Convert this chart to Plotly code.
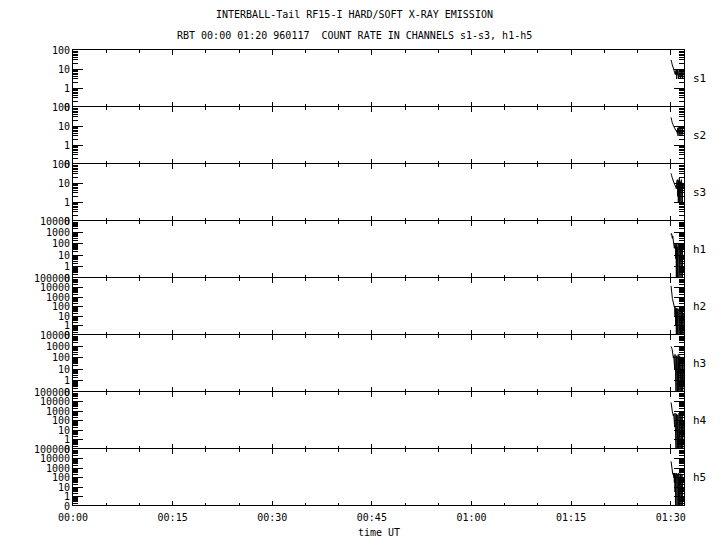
import plotly.graph_objects as go
from plotly.subplots import make_subplots

# ---------------- data ----------------
time_min = [90.05, 90.10, 90.15, 90.20, 90.25, 90.30, 90.35, 90.40, 90.45, 90.50,
             90.55, 90.60, 90.65, 90.70, 90.75, 90.80, 90.85, 90.90, 90.95, 91.00,
             91.05, 91.10, 91.15, 91.20, 91.25, 91.30, 91.35, 91.40, 91.45, 91.50,
             91.55, 91.60, 91.65, 91.70, 91.75, 91.80, 91.85, 91.90]

channels = ["s1", "s2", "s3", "h1", "h2", "h3", "h4", "h5"]
top_decade = [2, 2, 2, 4, 5, 4, 5, 5]

s1 = [30, 28, 22, 18, 16, 14, 12, 11, 9, 8, 7, 6, 6, 5, 8, 4, 9, 3, 7, 5,
      10, 4, 6, 3, 8, 5, 9, 4, 6, 3, 7, 5, 8, 4, 6, 3, 7, 5]
s2 = [28, 26, 20, 16, 15, 13, 12, 10, 10, 9, 8, 8, 7, 7, 6, 6, 5, 5, 6, 4,
      8, 3, 7, 5, 9, 4, 6, 3, 8, 5, 7, 4, 6, 3, 8, 4, 6, 5]
s3 = [32, 30, 24, 20, 17, 15, 13, 12, 11, 10, 9, 8, 8, 7, 6, 6, 5, 12, 3, 15,
      2, 10, 1, 14, 3, 18, 0.8, 9, 2, 12, 1, 15, 4, 8, 1, 10, 3, 6]
h1 = [600, 800, 700, 400, 300, 500, 250, 150, 100, 60, 40, 80, 20, 100, 5, 60, 0, 90, 2, 50,
      0, 120, 10, 70, 0, 40, 1, 100, 3, 60, 0, 80, 5, 30, 0, 70, 2, 40]
h2 = [15000, 3000, 1500, 1000, 700, 500, 300, 200, 150, 100, 80, 60, 10, 80, 1, 50, 0, 70, 3, 40,
      0, 60, 8, 30, 0, 50, 2, 70, 0, 40, 5, 60, 0, 30, 1, 50, 0, 20]
h3 = [1000, 900, 800, 600, 400, 300, 200, 100, 150, 50, 120, 10, 200, 1, 100, 0, 150, 5, 80, 0,
      120, 2, 200, 0, 90, 10, 150, 0, 60, 1, 100, 0, 80, 3, 120, 0, 50, 1]
h4 = [8000, 3000, 1500, 1000, 800, 600, 400, 300, 500, 100, 400, 20, 600, 2, 300, 0, 500, 10, 200, 0,
      400, 1, 300, 0, 600, 5, 200, 0, 300, 2, 400, 0, 150, 1, 300, 0, 100, 2]
h5 = [5000, 2000, 800, 400, 300, 250, 200, 300, 100, 250, 30, 300, 3, 200, 0, 300, 8, 150, 0, 250,
      1, 200, 0, 300, 4, 120, 0, 200, 1, 250, 0, 150, 3, 200, 0, 100, 1, 50]
series = [s1, s2, s3, h1, h2, h3, h4, h5]

time_ticks = [0, 15, 30, 45, 60, 75, 90]
time_labels = ["00:00", "00:15", "00:30", "00:45", "01:00", "01:15", "01:30"]
minor_time_ticks = [5, 10, 20, 25, 35, 40, 50, 55, 65, 70, 80, 85]
time_range = [0, 92]

title1 = "INTERBALL-Tail RF15-I HARD/SOFT X-RAY EMISSION"
title2 = "RBT 00:00 01:20 960117\u00a0 COUNT RATE IN CHANNELS s1-s3, h1-h5"
xlabel = "time UT"

# ---------------- figure ----------------
FONT = "DejaVu Sans Mono"
n = len(channels)
PLOT_H = 456
PLOT_W = 611
fig = make_subplots(rows=n, cols=1, shared_xaxes=True, vertical_spacing=0)

for i, (name, vals, dec) in enumerate(zip(channels, series, top_decade)):
    row = i + 1
    yplot = [v if v > 0 else 0.1 for v in vals]  # zero counts sit on the "0" line
    fig.add_trace(go.Scatter(x=time_min, y=yplot, mode="lines",
                             line=dict(color="black", width=1),
                             showlegend=False, hoverinfo="skip"),
                  row=row, col=1)
    tickvals = [10 ** e for e in range(-1, dec + 1)]
    ticktext = ["0"] + [str(10 ** e) for e in range(0, dec + 1)]
    minor_vals = [k * 10 ** e for e in range(-1, dec) for k in range(2, 10)]
    fig.update_yaxes(type="log", range=[-1, dec], tickmode="array",
                     tickvals=tickvals, ticktext=ticktext,
                     ticks="inside", ticklen=10, tickwidth=1, tickcolor="black",
                     minor=dict(tickmode="array", tickvals=minor_vals, ticks="inside",
                                ticklen=5, tickwidth=1, tickcolor="black", showgrid=False),
                     showline=True, linecolor="black", linewidth=1, mirror="allticks",
                     showgrid=False, zeroline=False,
                     tickfont=dict(family=FONT, size=10, color="black"),
                     row=row, col=1)
    yref = "y domain" if row == 1 else f"y{row} domain"
    fig.add_annotation(text=name, xref="paper", x=1, xanchor="left", xshift=7,
                       yref=yref, y=0.5, yanchor="middle", showarrow=False,
                       font=dict(family=FONT, size=11, color="black"))

fig.update_xaxes(range=time_range, tickmode="array", tickvals=time_ticks, ticktext=time_labels,
                 ticks="inside", ticklen=5, tickwidth=1, tickcolor="black",
                 minor=dict(tickmode="array", tickvals=minor_time_ticks, ticks="inside",
                            ticklen=3, tickwidth=1, tickcolor="black", showgrid=False),
                 showline=False, mirror="allticks", ticklabelstandoff=4,
                 showgrid=False, zeroline=False,
                 tickfont=dict(family=FONT, size=10, color="black"))

# thin single-pixel panel separators (one line per boundary)
for k in range(n + 1):
    yk = k / n + 0.5 / PLOT_H
    fig.add_shape(type="line", xref="paper", yref="paper",
                  x0=-1.0 / PLOT_W, x1=1 + 1.0 / PLOT_W, y0=yk, y1=yk,
                  line=dict(color="black", width=1), layer="above")

fig.add_annotation(text=title1, xref="paper", x=0.46, xanchor="center",
                   yref="paper", y=1, yanchor="middle", yshift=36, showarrow=False,
                   font=dict(family=FONT, size=10, color="black"))
fig.add_annotation(text=title2, xref="paper", x=0.46, xanchor="center",
                   yref="paper", y=1, yanchor="middle", yshift=15, showarrow=False,
                   font=dict(family=FONT, size=10, color="black"))
fig.add_annotation(text=xlabel, xref="paper", x=0.5, xanchor="center",
                   yref="paper", y=0, yanchor="middle", yshift=-26, showarrow=False,
                   font=dict(family=FONT, size=10, color="black"))

fig.update_layout(width=720, height=550,
                  margin=dict(l=73, r=36, t=50, b=44, autoexpand=False),
                  paper_bgcolor="white", plot_bgcolor="white",
                  font=dict(family=FONT, size=10, color="black"))

fig.write_html("out.html", config={"displayModeBar": False},
               post_script="document.body.style.margin='0px';document.body.style.padding='0px';")
